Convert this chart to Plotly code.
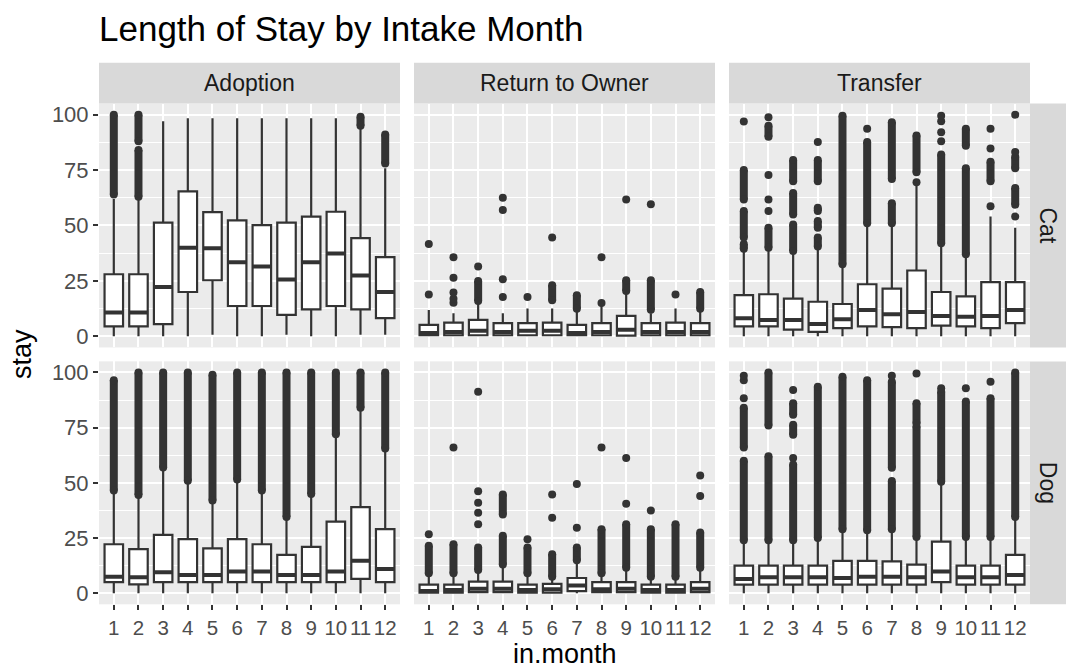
import plotly.graph_objects as go

# ---------------- data ----------------
months = [1, 2, 3, 4, 5, 6, 7, 8, 9, 10, 11, 12]
month_labels = ["1", "2", "3", "4", "5", "6", "7", "8", "9", "10", "11", "12"]
outcomes = ["Adoption", "Return to Owner", "Transfer"]
species = ["Cat", "Dog"]
y_ticks = [0, 25, 50, 75, 100]

# Adoption / Cat
adoption_cat_lo = [0, 0, 0, 0, 0.7, 0, 0, 0.7, 0, 0, 0.7, 0.7]
adoption_cat_q1 = [4.5, 4.5, 5.5, 20, 25.3, 13.7, 13.7, 9.7, 12.2, 13.7, 12.2, 8.2]
adoption_cat_med = [10.8, 10.8, 22.3, 40, 39.7, 33.4, 31.5, 25.6, 33.4, 37.4, 27.5, 20]
adoption_cat_q3 = [28, 28, 51.3, 65.4, 56, 52.3, 50.2, 51.3, 54, 56.2, 44.3, 35.7]
adoption_cat_hi = [62, 62, 97, 98.4, 98.4, 98.4, 98.4, 98.4, 98.4, 98.4, 94, 75.8]
adoption_cat_dense = [(1, 64, 100), (2, 63, 84), (2, 88, 100), (11, 95, 99), (12, 78, 91)]
adoption_cat_points = []

# Return to Owner / Cat
rto_cat_lo = [0, 0, 0, 0, 0, 0, 0, 0, 0, 0, 0, 0]
rto_cat_q1 = [0.5, 0.5, 0.5, 0.5, 0.5, 0.5, 0.5, 0.5, 0.3, 0.5, 0.5, 0.5]
rto_cat_med = [1.5, 2, 2.5, 2, 2.5, 2.5, 1.5, 2, 3, 2, 2, 2]
rto_cat_q3 = [5.2, 6.2, 7.4, 6, 6, 6.2, 5.2, 6, 9.2, 6, 6.2, 6]
rto_cat_hi = [11.9, 10.4, 15.6, 10.4, 12.6, 12.6, 12, 14, 20, 10.4, 12.6, 12]
rto_cat_dense = [(3, 16, 25), (6, 16.3, 23), (7, 12.5, 18.5), (9, 20.5, 25.3),
                 (10, 12, 25.3), (12, 12.5, 20)]
rto_cat_points = [(1, 18.9), (1, 41.6), (2, 15.2), (2, 17), (2, 19.8), (2, 26.4),
                  (2, 35.7), (3, 31.5), (4, 17.8), (4, 25.7), (4, 57), (4, 62.5),
                  (5, 17.8), (6, 44.6), (8, 15), (8, 35.7), (9, 61.7), (10, 59.6),
                  (11, 18.9)]

# Transfer / Cat
transfer_cat_lo = [0, 0, 0, 0, 0, 0, 0, 0, 0, 0, 0, 0]
transfer_cat_q1 = [4.5, 4.5, 3, 2, 3.7, 4.5, 4.2, 3.7, 4.8, 4.5, 3.7, 6]
transfer_cat_med = [8.2, 7.4, 7.4, 5.6, 7.7, 11.9, 10, 11, 9.2, 8.9, 9.2, 11.9]
transfer_cat_q3 = [18.6, 19, 17, 15.6, 14.6, 23.5, 21.5, 29.7, 20, 18, 24.5, 24.5]
transfer_cat_hi = [38.6, 39.4, 37.9, 40, 32, 50.5, 50.5, 68, 41.6, 36.4, 54, 49]
transfer_cat_dense = [(1, 39.5, 41.6), (1, 44.6, 56.5), (1, 61.7, 75), (2, 40, 49),
                      (2, 90, 95), (3, 38.5, 50.5), (3, 55, 64.6), (3, 70, 79.5),
                      (4, 40.5, 44.6), (4, 49, 52), (4, 56.5, 58), (4, 70, 79.5),
                      (5, 32.5, 99.5), (6, 51, 87.7), (7, 51, 60), (7, 71, 96.6),
                      (8, 74, 90.6), (9, 42, 82), (10, 37, 75.8), (10, 86, 93.6),
                      (11, 70, 78.7), (12, 59.4, 66.9), (12, 75.8, 81)]
transfer_cat_points = [(1, 96.9), (2, 56.5), (2, 61.7), (2, 72.8), (2, 98.8),
                       (4, 87.7), (6, 93.6), (8, 69.5), (9, 88), (9, 92), (9, 97),
                       (9, 99.5), (11, 58.7), (11, 84.7), (11, 93.6), (12, 54),
                       (12, 83.2), (12, 100)]

# Adoption / Dog
adoption_dog_lo = [0, 0, 0, 0, 0, 0, 0, 0, 0, 0, 0, 0]
adoption_dog_q1 = [5, 4, 5, 5, 5, 5, 5, 5, 5, 5, 6.5, 5]
adoption_dog_med = [7.5, 7.2, 9.5, 8.3, 8.3, 9.9, 9.8, 8.3, 8.3, 9.8, 14.7, 11]
adoption_dog_q3 = [22.2, 20, 26.4, 24.5, 20.3, 24.5, 22.2, 17.4, 21, 32.4, 39, 29]
adoption_dog_hi = [46.2, 44, 56.8, 50.8, 41.7, 51, 46.2, 34.2, 44.7, 71.5, 83.8, 65]
adoption_dog_dense = [(1, 46.5, 96.5), (2, 44.5, 100), (3, 57, 100), (4, 51, 100),
                      (5, 42, 99), (6, 51.5, 100), (7, 46.5, 100), (8, 34.5, 100),
                      (9, 45, 100), (10, 72, 100), (11, 84, 100), (12, 65.5, 100)]
adoption_dog_points = []

# Return to Owner / Dog
rto_dog_lo = [0, 0, 0, 0, 0, 0, 0, 0, 0, 0, 0, 0]
rto_dog_q1 = [0.3, 0.3, 0.5, 0.5, 0.3, 0.3, 1, 0.5, 0.5, 0.3, 0.3, 0.5]
rto_dog_med = [1, 1.5, 2, 2, 1.5, 1.8, 3.5, 1.8, 2, 1.5, 1.5, 2]
rto_dog_q3 = [3.9, 3.9, 5.3, 5.3, 3.9, 4.2, 6.9, 5, 5, 3.9, 3.9, 5]
rto_dog_hi = [8.7, 8.7, 10.2, 12.5, 8.7, 7.2, 14.7, 8.7, 11, 7.2, 7.2, 11]
rto_dog_dense = [(1, 9, 21.5), (2, 9, 22.2), (3, 10.5, 20.7), (4, 13, 26),
                 (4, 35.7, 44.7), (5, 9, 20.7), (6, 7.5, 17.7), (7, 15, 20.7),
                 (8, 9, 29), (9, 11.5, 31.2), (10, 7.5, 29), (11, 7.5, 31.2),
                 (12, 11.5, 27.5)]
rto_dog_points = [(1, 26.7), (2, 66), (3, 31.2), (3, 36.5), (3, 41), (3, 46.2),
                  (3, 91.3), (5, 24.5), (6, 34.2), (6, 44.7), (7, 29.7), (7, 49.5),
                  (8, 66), (9, 40.5), (9, 61.3), (10, 37.5), (12, 44), (12, 53.3)]

# Transfer / Dog
transfer_dog_lo = [0, 0, 0, 0, 0, 0, 0, 0, 0, 0, 0, 0]
transfer_dog_q1 = [3.9, 3.9, 3.9, 3.9, 3.9, 3.9, 3.9, 3.9, 5, 3.9, 3.9, 3.9]
transfer_dog_med = [6.5, 7.2, 7.2, 7.2, 6.9, 7.5, 7.5, 7.2, 9.8, 7.2, 7.2, 8.3]
transfer_dog_q3 = [12.5, 12.5, 12.5, 12.5, 14.7, 14.7, 14.4, 13, 23.4, 12.5, 12.5, 17.4]
transfer_dog_hi = [23.7, 23.7, 23.7, 24.5, 28.5, 28, 28.5, 25.2, 50, 25.2, 25, 34.2]
transfer_dog_dense = [(1, 24, 60), (1, 66, 84), (2, 24, 62), (2, 76, 100),
                      (3, 24, 58.3), (3, 71.8, 76.3), (3, 80.8, 86), (4, 25, 93.5),
                      (5, 29, 98), (6, 28.5, 96.5), (7, 29, 50.8), (7, 56.8, 95.8),
                      (8, 25.5, 75.5), (8, 77, 86), (9, 50.5, 91.3), (10, 25.5, 86.8),
                      (11, 25.5, 88.3), (12, 34.5, 100)]
transfer_dog_points = [(1, 88.3), (1, 96.5), (1, 98.5), (3, 61.3), (3, 92),
                       (7, 98.5), (8, 99.5), (9, 92.8), (10, 92.8), (11, 95.8)]

# ---------------- layout constants (pixels) ----------------
W, H = 1066, 672
COL_X = [(99, 400), (414, 715), (729, 1030)]
ROW_Y = [(103, 348), (362, 606)]
STRIP_TOP = 62
STRIP_RIGHT = 1066
INK = "#333333"
FONT = "Liberation Sans, Arial, sans-serif"


def px_x(p):
    return p / W


def px_y(p):
    return 1 - p / H


panels = {
    ("Adoption", "Cat"): (adoption_cat_lo, adoption_cat_q1, adoption_cat_med, adoption_cat_q3,
                          adoption_cat_hi, adoption_cat_dense, adoption_cat_points),
    ("Return to Owner", "Cat"): (rto_cat_lo, rto_cat_q1, rto_cat_med, rto_cat_q3,
                                 rto_cat_hi, rto_cat_dense, rto_cat_points),
    ("Transfer", "Cat"): (transfer_cat_lo, transfer_cat_q1, transfer_cat_med, transfer_cat_q3,
                          transfer_cat_hi, transfer_cat_dense, transfer_cat_points),
    ("Adoption", "Dog"): (adoption_dog_lo, adoption_dog_q1, adoption_dog_med, adoption_dog_q3,
                          adoption_dog_hi, adoption_dog_dense, adoption_dog_points),
    ("Return to Owner", "Dog"): (rto_dog_lo, rto_dog_q1, rto_dog_med, rto_dog_q3,
                                 rto_dog_hi, rto_dog_dense, rto_dog_points),
    ("Transfer", "Dog"): (transfer_dog_lo, transfer_dog_q1, transfer_dog_med, transfer_dog_q3,
                          transfer_dog_hi, transfer_dog_dense, transfer_dog_points),
}

BOX_W = 0.75
fig = go.Figure()
layout_axes = {}
shapes = []
annotations = []

for r, sp in enumerate(species):
    for c, oc in enumerate(outcomes):
        k = r * 3 + c + 1
        xs = "x" if k == 1 else f"x{k}"
        ys = "y" if k == 1 else f"y{k}"
        lo, q1, med, q3, hi, dense, points = panels[(oc, sp)]

        # dense runs of outliers
        dx, dy = [], []
        for m, a, b in dense:
            dx += [m, m, None]
            dy += [a, b, None]
        if dx:
            fig.add_trace(go.Scatter(x=dx, y=dy, xaxis=xs, yaxis=ys, mode="lines+markers",
                                     line=dict(color=INK, width=8),
                                     marker=dict(color=INK, size=8),
                                     hoverinfo="skip", showlegend=False))
        if points:
            fig.add_trace(go.Scatter(x=[p[0] for p in points], y=[p[1] for p in points],
                                     xaxis=xs, yaxis=ys, mode="markers",
                                     marker=dict(color=INK, size=8),
                                     hoverinfo="skip", showlegend=False))
        # boxes
        fig.add_trace(go.Box(x=months, q1=q1, median=med, q3=q3, lowerfence=lo,
                             upperfence=hi, xaxis=xs, yaxis=ys, width=BOX_W,
                             whiskerwidth=0, fillcolor="white",
                             line=dict(color=INK, width=2.2), boxpoints=False,
                             hoverinfo="skip", showlegend=False))
        # fat median
        mx, my = [], []
        for m, v in zip(months, med):
            mx += [m - BOX_W / 2, m + BOX_W / 2, None]
            my += [v, v, None]
        fig.add_trace(go.Scatter(x=mx, y=my, xaxis=xs, yaxis=ys, mode="lines",
                                 line=dict(color=INK, width=4),
                                 hoverinfo="skip", showlegend=False))

        x0, x1 = COL_X[c]
        yt, yb = ROW_Y[r]
        bottom = r == 1
        left = c == 0
        layout_axes["xaxis" if k == 1 else f"xaxis{k}"] = dict(
            domain=[px_x(x0), px_x(x1)], anchor=ys, range=[0.4, 12.6],
            tickmode="array", tickvals=months, ticktext=month_labels, tickangle=0,
            showticklabels=bottom, ticks="outside" if bottom else "",
            ticklen=5, tickwidth=2, tickcolor=INK,
            tickfont=dict(family=FONT, size=20.5, color="#4D4D4D"),
            showgrid=True, gridcolor="white", gridwidth=2, zeroline=False,
            showline=False, fixedrange=True)
        layout_axes["yaxis" if k == 1 else f"yaxis{k}"] = dict(
            domain=[px_y(yb), px_y(yt)], anchor=xs, range=[-5, 105],
            tickmode="array", tickvals=y_ticks,
            showticklabels=left, ticks="outside" if left else "",
            ticklen=5, tickwidth=2, tickcolor=INK,
            tickfont=dict(family=FONT, size=22, color="#4D4D4D"),
            showgrid=True, gridcolor="white", gridwidth=2, zeroline=False,
            minor=dict(tickvals=[12.5, 37.5, 62.5, 87.5], showgrid=True,
                       gridcolor="white", gridwidth=1, ticks=""),
            showline=False, fixedrange=True)

# top strips
for c, oc in enumerate(outcomes):
    x0, x1 = COL_X[c]
    shapes.append(dict(type="rect", xref="paper", yref="paper", x0=px_x(x0), x1=px_x(x1),
                       y0=px_y(ROW_Y[0][0]), y1=px_y(STRIP_TOP), fillcolor="#D9D9D9",
                       line=dict(width=0), layer="below"))
    annotations.append(dict(text=oc, xref="paper", yref="paper", x=px_x((x0 + x1) / 2),
                            y=px_y((STRIP_TOP + ROW_Y[0][0]) / 2), showarrow=False,
                            xanchor="center", yanchor="middle",
                            font=dict(family=FONT, size=23, color="#1A1A1A")))
# right strips
for r, sp in enumerate(species):
    yt, yb = ROW_Y[r]
    shapes.append(dict(type="rect", xref="paper", yref="paper", x0=px_x(COL_X[2][1]),
                       x1=px_x(STRIP_RIGHT), y0=px_y(yb), y1=px_y(yt), fillcolor="#D9D9D9",
                       line=dict(width=0), layer="below"))
    annotations.append(dict(text=sp, xref="paper", yref="paper",
                            x=px_x((COL_X[2][1] + STRIP_RIGHT) / 2), y=px_y((yt + yb) / 2),
                            showarrow=False, textangle=90, xanchor="center", yanchor="middle",
                            font=dict(family=FONT, size=23, color="#1A1A1A")))

# title and axis titles
annotations.append(dict(text="Length of Stay by Intake Month", xref="paper", yref="paper",
                        x=px_x(97), y=px_y(28), xanchor="left", yanchor="middle",
                        showarrow=False, font=dict(family=FONT, size=35, color="black")))
annotations.append(dict(text="stay", xref="paper", yref="paper", x=px_x(22),
                        y=px_y((ROW_Y[0][0] + ROW_Y[1][1]) / 2), textangle=-90,
                        xanchor="center", yanchor="middle", showarrow=False,
                        font=dict(family=FONT, size=27, color="black")))
annotations.append(dict(text="in.month", xref="paper", yref="paper",
                        x=px_x((COL_X[0][0] + COL_X[2][1]) / 2), y=px_y(656),
                        xanchor="center", yanchor="middle", showarrow=False,
                        font=dict(family=FONT, size=27, color="black")))

fig.update_layout(width=W, height=H, margin=dict(l=0, r=0, t=0, b=0),
                  paper_bgcolor="white", plot_bgcolor="#EBEBEB",
                  showlegend=False, shapes=shapes, annotations=annotations,
                  boxmode="overlay", **layout_axes)

fig.write_html("out.html")
